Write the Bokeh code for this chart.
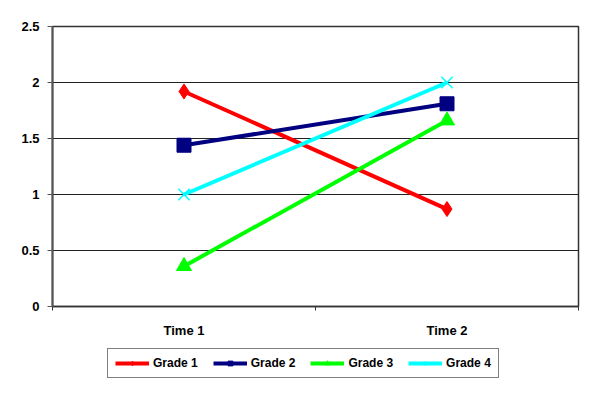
from bokeh.plotting import figure
from bokeh.models import FixedTicker, NumeralTickFormatter, Legend, LegendItem, Range1d
from bokeh.layouts import column
from bokeh.embed import file_html
from bokeh.resources import INLINE

categories = ["Time 1", "Time 2"]
series_names = ["Grade 1", "Grade 2", "Grade 3", "Grade 4"]
grade1 = [1.92, 0.87]
grade2 = [1.44, 1.81]
grade3 = [0.36, 1.66]
grade4 = [1.0, 2.0]
y_ticks = [0, 0.5, 1, 1.5, 2, 2.5]

series_values = [grade1, grade2, grade3, grade4]
colors = ["#FF0000", "#000080", "#00FF00", "#00FFFF"]
markers = ["diamond", "square", "triangle", "x"]
sizes = [15, 14, 15, 16]

xpos = [i + 0.5 for i in range(len(categories))]

FONT = "Liberation Sans"

p = figure(width=595, height=340, output_backend="svg", toolbar_location=None,
           x_range=Range1d(0, len(categories)), y_range=Range1d(0, 2.5),
           min_border_left=52, min_border_right=17, min_border_top=26, min_border_bottom=33)

p.background_fill_color = "white"
p.border_fill_color = "white"
p.outline_line_color = "#333333"
p.outline_line_width = 1.5

p.xgrid.grid_line_color = None
p.ygrid.grid_line_color = "#222222"
p.ygrid.grid_line_width = 1.2
p.ygrid.ticker = FixedTicker(ticks=y_ticks)

p.yaxis.ticker = FixedTicker(ticks=y_ticks)
p.yaxis.formatter = NumeralTickFormatter(format="0.[0]")
p.yaxis.axis_line_color = "#555555"
p.yaxis.axis_line_width = 2
p.yaxis.major_tick_line_color = "#555555"
p.yaxis.major_tick_out = 5
p.yaxis.major_tick_in = 0
p.yaxis.minor_tick_line_color = None
p.yaxis.major_label_text_font = FONT
p.yaxis.major_label_text_font_style = "bold"
p.yaxis.major_label_text_font_size = "13px"
p.yaxis.major_label_text_color = "black"
p.yaxis.major_label_standoff = 8

p.xaxis.ticker = FixedTicker(ticks=xpos, minor_ticks=[0, 1, 2])
p.xaxis.major_label_overrides = {x: c for x, c in zip(xpos, categories)}
p.xaxis.axis_line_color = "#333333"
p.xaxis.axis_line_width = 1.5
p.xaxis.major_tick_line_color = None
p.xaxis.major_tick_out = 0
p.xaxis.major_tick_in = 0
p.xaxis.minor_tick_line_color = "#333333"
p.xaxis.minor_tick_out = 4
p.xaxis.minor_tick_in = 0
p.xaxis.major_label_text_font = FONT
p.xaxis.major_label_text_font_style = "bold"
p.xaxis.major_label_text_font_size = "13px"
p.xaxis.major_label_text_color = "black"
p.xaxis.major_label_standoff = 12

for name, vals, col, mk, sz in zip(series_names, series_values, colors, markers, sizes):
    p.line(xpos, vals, line_color=col, line_width=4)
    if mk == "x":
        p.scatter(xpos, vals, marker=mk, size=sz, line_color=col, line_width=1.5)
    else:
        p.scatter(xpos, vals, marker=mk, size=sz, fill_color=col, line_color=col)

# legend panel (a second, axis-less figure below the chart)
lg = figure(width=595, height=51, output_backend="svg", toolbar_location=None,
            x_range=Range1d(0, 1), y_range=Range1d(0, 1),
            x_axis_location=None, y_axis_location=None,
            min_border_left=0, min_border_right=0, min_border_top=0, min_border_bottom=0)
lg.grid.grid_line_color = None
lg.outline_line_color = None
lg.background_fill_color = "white"
lg.border_fill_color = "white"

nan = float("nan")
items = []
for name, col, mk in zip(series_names, colors, markers):
    r1 = lg.line(x=[nan], y=[nan], line_color=col, line_width=4)
    if mk == "x":
        r2 = lg.scatter(x=[nan], y=[nan], marker=mk, size=6, line_color=col, line_width=1.5)
    else:
        r2 = lg.scatter(x=[nan], y=[nan], marker=mk, size=6, fill_color=col, line_color=col)
    items.append(LegendItem(label=name, renderers=[r1, r2]))

legend = Legend(items=items, orientation="horizontal", location=(55, 13),
                glyph_width=34, glyph_height=12, label_standoff=4, spacing=15,
                padding=7, margin=0,
                label_text_font=FONT, label_text_font_style="bold",
                label_text_font_size="12px", label_text_color="black",
                border_line_color="black", border_line_width=1.2,
                background_fill_color="white", background_fill_alpha=1)
lg.add_layout(legend, "center")

layout = column(p, lg, spacing=0)
open("out.html", "w").write(file_html(layout, INLINE))
